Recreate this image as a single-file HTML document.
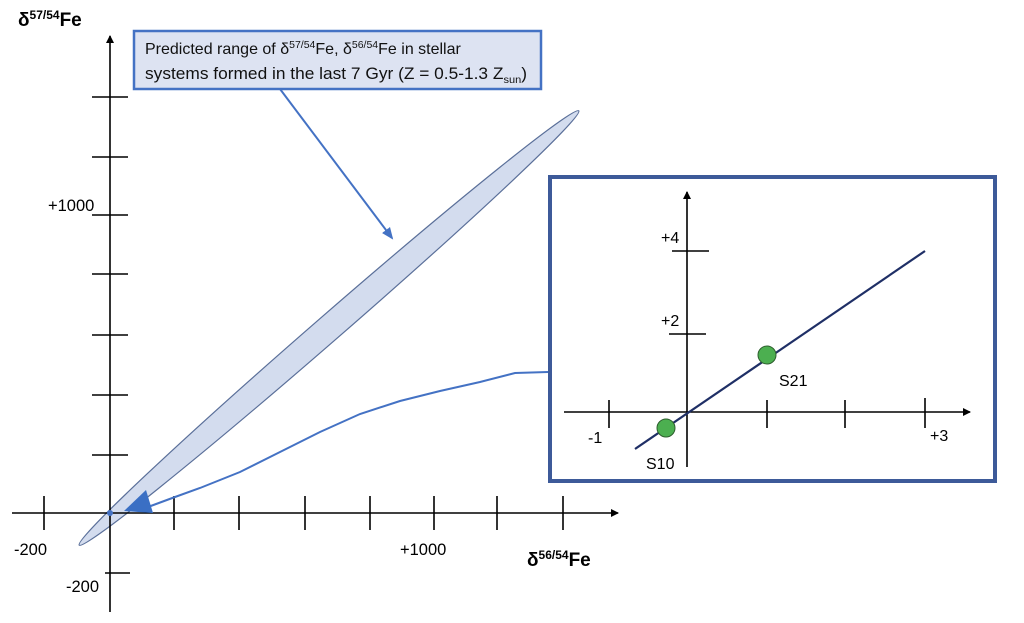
<!DOCTYPE html>
<html><head><meta charset="utf-8"><style>
html,body{margin:0;padding:0;background:#fff;}
svg{display:block;font-family:"Liberation Sans",sans-serif;}
</style></head><body>
<svg width="1024" height="623" viewBox="0 0 1024 623" xmlns="http://www.w3.org/2000/svg">
<defs>
<marker id="ah" markerWidth="8" markerHeight="8" refX="7" refY="4" orient="auto" markerUnits="userSpaceOnUse"><path d="M0,0 L8,4 L0,8 z" fill="#000"/></marker>
<marker id="bh" markerWidth="12" markerHeight="12" refX="10" refY="6" orient="auto" markerUnits="userSpaceOnUse"><path d="M0,1 L12,6 L0,11 z" fill="#4472c4"/></marker>
</defs>
<ellipse cx="329" cy="328" rx="331" ry="13" transform="rotate(-41.0 329 328)" fill="#d3dcee" stroke="#5a6f99" stroke-width="1.2"/>
<g stroke="#000" stroke-width="1.6" fill="none">
<line x1="110" y1="612" x2="110" y2="36" marker-end="url(#ah)"/>
<line x1="12" y1="513" x2="618" y2="513" marker-end="url(#ah)"/>
<line x1="92" y1="97" x2="128" y2="97"/>
<line x1="92" y1="157" x2="128" y2="157"/>
<line x1="92" y1="215" x2="128" y2="215"/>
<line x1="92" y1="274" x2="128" y2="274"/>
<line x1="92" y1="335" x2="128" y2="335"/>
<line x1="92" y1="395" x2="128" y2="395"/>
<line x1="92" y1="455" x2="128" y2="455"/>
<line x1="105" y1="573" x2="130" y2="573"/>
<line x1="44" y1="496" x2="44" y2="530"/>
<line x1="174" y1="496" x2="174" y2="530"/>
<line x1="239" y1="496" x2="239" y2="530"/>
<line x1="305" y1="496" x2="305" y2="530"/>
<line x1="370" y1="496" x2="370" y2="530"/>
<line x1="434" y1="496" x2="434" y2="530"/>
<line x1="497" y1="496" x2="497" y2="530"/>
<line x1="563" y1="496" x2="563" y2="530"/>
</g>
<circle cx="110" cy="513" r="3" fill="#4472c4"/>
<polyline points="148,507 175,497 200,488 240,472 280,452 320,432 360,414 400,401 440,391 480,382 515,373 548,372" fill="none" stroke="#4472c4" stroke-width="2"/>
<path d="M124,511 L146,490 L153,513 Z" fill="#3a6fc4"/>
<rect x="134" y="31" width="407" height="58" fill="#dde3f2" stroke="#4472c4" stroke-width="2.5"/>
<text x="145" y="54" font-size="16" fill="#111">Predicted range of δ<tspan font-size="10.5" dy="-6">57/54</tspan><tspan dy="6">Fe, δ</tspan><tspan font-size="10.5" dy="-6">56/54</tspan><tspan dy="6">Fe in stellar</tspan></text>
<text x="145" y="79" font-size="16.5" fill="#111" textLength="382" lengthAdjust="spacingAndGlyphs">systems formed in the last 7 Gyr (Z = 0.5-1.3 Z<tspan font-size="10.5" dy="4">sun</tspan><tspan dy="-4">)</tspan></text>
<line x1="280" y1="89" x2="392" y2="238" stroke="#4472c4" stroke-width="2" marker-end="url(#bh)"/>
<text x="18" y="26" font-size="19" font-weight="bold">δ<tspan font-size="12" dy="-7">57/54</tspan><tspan dy="7">Fe</tspan></text>
<text x="527" y="566" font-size="19" font-weight="bold">δ<tspan font-size="12" dy="-7">56/54</tspan><tspan dy="7">Fe</tspan></text>
<text x="48" y="211" font-size="16.5">+1000</text>
<text x="14" y="555" font-size="16.5">-200</text>
<text x="400" y="555" font-size="16.5">+1000</text>
<text x="66" y="592" font-size="16.5">-200</text>
<rect x="550" y="177" width="445" height="304" fill="#fff" stroke="#3d5a99" stroke-width="4"/>
<g stroke="#000" stroke-width="1.6" fill="none">
<line x1="687" y1="467" x2="687" y2="192" marker-end="url(#ah)"/>
<line x1="564" y1="412" x2="970" y2="412" marker-end="url(#ah)"/>
<line x1="609" y1="400" x2="609" y2="428"/>
<line x1="767" y1="400" x2="767" y2="428"/>
<line x1="845" y1="400" x2="845" y2="428"/>
<line x1="925" y1="398" x2="925" y2="428"/>
<line x1="672" y1="251" x2="709" y2="251"/>
<line x1="669" y1="334" x2="706" y2="334"/>
</g>
<line x1="635" y1="449" x2="925" y2="251" stroke="#1f2f66" stroke-width="2.2"/>
<circle cx="666" cy="428" r="9" fill="#4caf50" stroke="#2e5e2e" stroke-width="1"/>
<circle cx="767" cy="355" r="9" fill="#4caf50" stroke="#2e5e2e" stroke-width="1"/>
<text x="661" y="243" font-size="16">+4</text>
<text x="661" y="326" font-size="16">+2</text>
<text x="588" y="443" font-size="16">-1</text>
<text x="930" y="441" font-size="16">+3</text>
<text x="646" y="469" font-size="16">S10</text>
<text x="779" y="386" font-size="16">S21</text>
</svg>
</body></html>
